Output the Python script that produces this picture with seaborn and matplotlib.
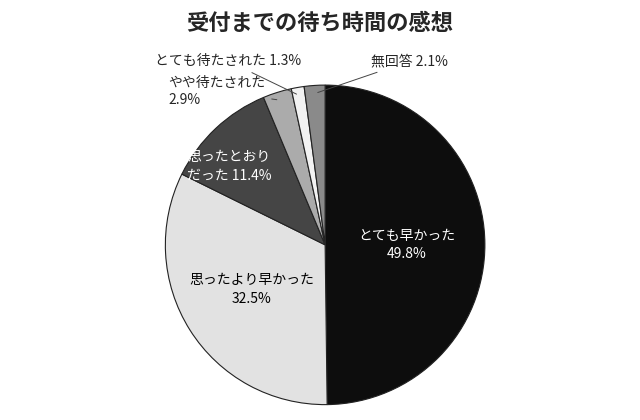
import matplotlib
matplotlib.use("Agg")
import matplotlib.pyplot as plt
import seaborn as sns
import numpy as np

labels = ["とても早かった", "思ったより早かった", "思ったとおりだった", "やや待たされた", "とても待たされた", "無回答"]
values = [49.8, 32.5, 11.4, 2.9, 1.3, 2.1]
colors = ["#0d0d0d", "#e2e2e2", "#454545", "#ababab", "#f2f2f2", "#8a8a8a"]

sns.set_theme(style="white")
plt.rcParams['font.family'] = ['Noto Sans CJK JP', 'DejaVu Sans']

fig = plt.figure(figsize=(6.4, 4.2), dpi=100)
ax = fig.add_axes([0.253, 0.029, 0.51, 0.776])
wedges, _ = ax.pie(values, colors=colors, startangle=90, counterclock=False,
                   wedgeprops=dict(edgecolor="#222", linewidth=0.8))
ax.set_xlim(-1.02, 1.02); ax.set_ylim(-1.02, 1.02)
ax.set_aspect('equal'); ax.axis('off')

fs = 10
ax.text(0.51, 0, f"{labels[0]}\n{values[0]}%", color="white", ha="center", va="center", fontsize=fs, linespacing=1.4)
ax.text(-0.46, -0.28, f"{labels[1]}\n{values[1]}%", color="black", ha="center", va="center", fontsize=fs, linespacing=1.4)
ax.text(-0.6, 0.49, f"思ったとおり\nだった {values[2]}%", color="white", ha="center", va="center", fontsize=fs, linespacing=1.4)

def mid(i):
    start = 90 - sum(values[:i]) * 3.6
    a = np.deg2rad(start - values[i] * 1.8)
    return np.cos(a) * 0.95, np.sin(a) * 0.95

kw = dict(arrowprops=dict(arrowstyle="-", color="#444", lw=0.7), fontsize=fs, va="center")
ax.annotate(f"{labels[3]}\n{values[3]}%", xy=mid(3), xytext=(-0.98, 0.96), ha="left", linespacing=1.3, **kw)
ax.annotate(f"{labels[4]} {values[4]}%", xy=mid(4), xytext=(-0.15, 1.15), ha="right", **kw)
ax.annotate(f"{labels[5]} {values[5]}%", xy=mid(5), xytext=(0.29, 1.15), ha="left", **kw)

fig.text(0.5, 0.945, "受付までの待ち時間の感想", ha="center", va="center", fontsize=16, fontweight="bold")
fig.savefig("out.png", dpi=100, facecolor="white")
